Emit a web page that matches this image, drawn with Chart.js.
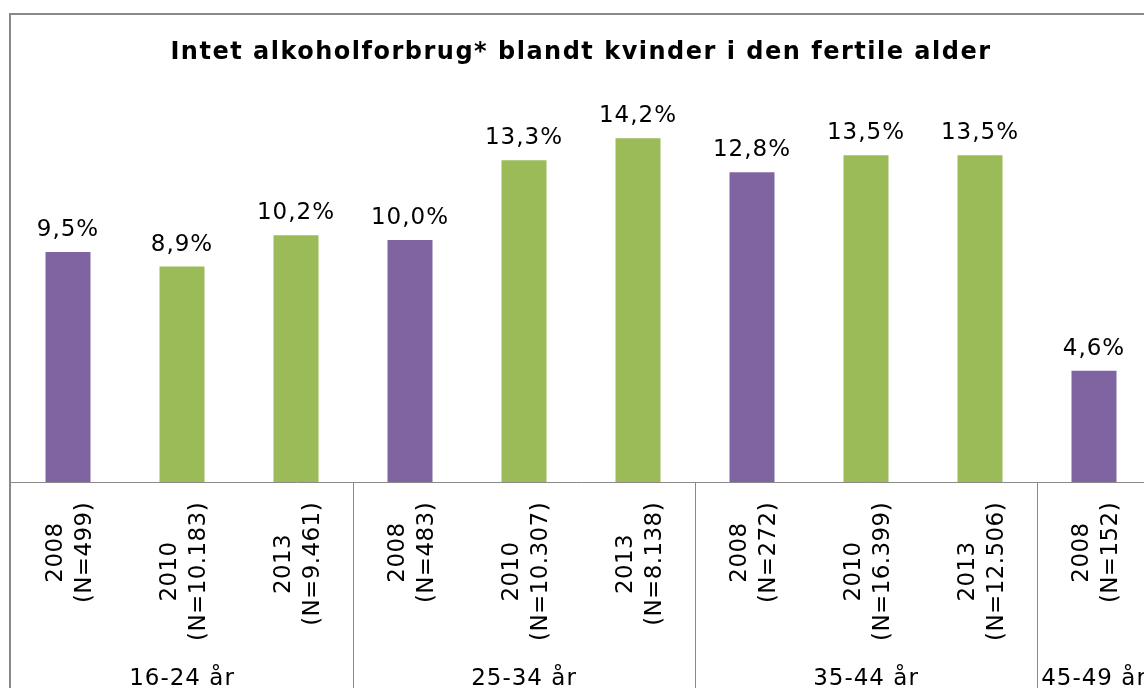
<!DOCTYPE html>
<html>
<head>
<meta charset="utf-8">
<script src="https://cdn.jsdelivr.net/npm/chart.js@4/dist/chart.umd.min.js"></script>
<style>
  html, body { margin: 0; padding: 0; background: #fff; overflow: hidden; width: 1144px; height: 688px; }
  #frame { position: absolute; left: 9px; top: 13px; width: 1200px; height: 720px; border-left: 2px solid #898989; border-top: 2px solid #898989; }
  #c { position: absolute; left: 0; top: 0; }
</style>
</head>
<body>
<div id="frame"><canvas id="c" width="1140" height="690"></canvas></div>
<script>
// ---- data ----
const titleText = 'Intet alkoholforbrug* blandt kvinder i den fertile alder';
const years = ['2008', '2010', '2013', '2008', '2010', '2013', '2008', '2010', '2013', '2008'];
const nLabels = ['(N=499)', '(N=10.183)', '(N=9.461)', '(N=483)', '(N=10.307)', '(N=8.138)', '(N=272)', '(N=16.399)', '(N=12.506)', '(N=152)'];
const values = [9.5, 8.9, 10.2, 10.0, 13.3, 14.2, 12.8, 13.5, 13.5, 4.6];
const groups = ['16-24 år', '25-34 år', '35-44 år', '45-49 år'];
const groupSizes = [3, 3, 3, 1];

const PURPLE = '#8064A2';
const GREEN = '#9BBB59';
const FONT = "'DejaVu Sans', Verdana, sans-serif";

const labels = years.map((y, i) => [y, nLabels[i]]);
const colors = years.map(y => (y === '2008' ? PURPLE : GREEN));

const customLabels = {
  id: 'customLabels',
  beforeDraw(chart) {
    // wider letter spacing for the title (Verdana-like look)
    chart.ctx.letterSpacing = '1.5px';
  },
  beforeDatasetsDraw(chart) {
    chart.ctx.letterSpacing = '0px';
  },
  afterDatasetsDraw(chart) {
    const ctx = chart.ctx;
    const meta = chart.getDatasetMeta(0);
    ctx.save();
    ctx.letterSpacing = '1px';
    ctx.fillStyle = '#000';
    ctx.font = '23px ' + FONT;
    ctx.textAlign = 'center';
    ctx.textBaseline = 'alphabetic';
    meta.data.forEach((bar, i) => {
      const txt = values[i].toFixed(1).replace('.', ',') + '%';
      ctx.fillText(txt, bar.x, bar.y - 16);
    });
    ctx.restore();
  },
  afterDraw(chart) {
    const ctx = chart.ctx;
    const xs = chart.scales.x;
    const area = chart.chartArea;
    const bottom = chart.height;
    ctx.save();
    // rotated category labels
    ctx.fillStyle = '#000';
    ctx.font = '23px ' + FONT;
    ctx.letterSpacing = '0.4px';
    ctx.textAlign = 'center';
    ctx.textBaseline = 'alphabetic';
    labels.forEach((lines, i) => {
      const px = xs.getPixelForValue(i);
      const maxW = Math.max(...lines.map(l => ctx.measureText(l).width));
      ctx.save();
      ctx.translate(px, area.bottom + 20);
      ctx.rotate(-Math.PI / 2);
      ctx.fillText(lines[0], -maxW / 2, -6);
      ctx.fillText(lines[1], -maxW / 2, 22.5);
      ctx.restore();
    });
    // group separators and group labels
    ctx.letterSpacing = '1px';
    ctx.strokeStyle = '#8a8a8a';
    ctx.lineWidth = 1;
    let start = 0;
    groups.forEach((g, gi) => {
      const n = groupSizes[gi];
      const mid = start + (n - 1) / 2;
      const cx = (xs.getPixelForValue(Math.floor(mid)) + xs.getPixelForValue(Math.ceil(mid))) / 2;
      ctx.fillText(g, cx, 670);
      if (gi > 0) {
        const sx = Math.round((xs.getPixelForValue(start - 1) + xs.getPixelForValue(start)) / 2) + 0.5;
        ctx.beginPath();
        ctx.moveTo(sx, area.bottom);
        ctx.lineTo(sx, bottom);
        ctx.stroke();
      }
      start += n;
    });
    ctx.restore();
  }
};

new Chart(document.getElementById('c'), {
  type: 'bar',
  data: {
    labels: labels,
    datasets: [{
      data: values,
      backgroundColor: colors,
      borderWidth: 0,
      categoryPercentage: 1.0,
      barPercentage: 45 / 114
    }]
  },
  options: {
    responsive: false,
    animation: false,
    layout: { padding: 0 },
    plugins: {
      legend: { display: false },
      tooltip: { enabled: false },
      title: {
        display: true,
        text: titleText,
        color: '#000',
        font: { family: FONT, size: 24, weight: 'bold', lineHeight: 1.2 },
        padding: { top: 23, bottom: 28 }
      }
    },
    scales: {
      x: {
        offset: true,
        grid: { display: false },
        border: { display: true, color: '#8a8a8a', width: 1 },
        ticks: { display: false },
        afterFit: (s) => { s.height = 223; }
      },
      y: {
        display: false,
        min: 0,
        max: 16
      }
    }
  },
  plugins: [customLabels]
});
</script>
</body>
</html>
